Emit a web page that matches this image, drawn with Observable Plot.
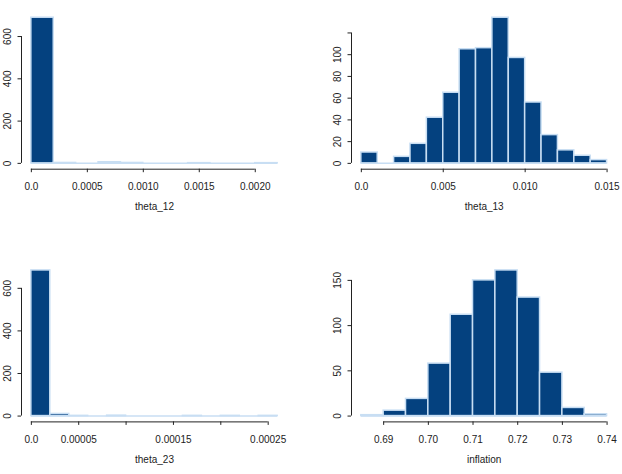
<!DOCTYPE html>
<html><head><meta charset="utf-8">
<script src="https://cdn.jsdelivr.net/npm/d3@7"></script>
<script src="https://cdn.jsdelivr.net/npm/@observablehq/plot@0.6"></script>
<style>
html,body{margin:0;padding:0;background:#fff;}
#wrap{position:relative;width:622px;height:474px;overflow:hidden;}
#wrap svg{position:absolute;}
</style></head><body><div id="wrap"></div>
<script>
// ---- theta_12 ----
const theta12Breaks = [0,0.0002,0.0004,0.0006,0.0008,0.0010,0.0012,0.0014,0.0016,0.0018,0.0020,0.0022];
const theta12Counts = [689,2,0,5,2,0,0,1,0,0,1];
const theta12XTicks = [0,0.0005,0.0010,0.0015,0.0020];
const theta12XLabels = ["0.0","0.0005","0.0010","0.0015","0.0020"];
const theta12YTicks = [0,200,400,600];
const theta12YLabels = ["0","200","400","600"];

// ---- theta_13 ----
const theta13Breaks = [0,0.001,0.002,0.003,0.004,0.005,0.006,0.007,0.008,0.009,0.010,0.011,0.012,0.013,0.014,0.015];
const theta13Counts = [10,0,6,18,42,65,105,106,134,97,56,26,12,7,3];
const theta13XTicks = [0,0.005,0.010,0.015];
const theta13XLabels = ["0.0","0.005","0.010","0.015"];
const theta13YTicks = [0,20,40,60,80,100,120];
const theta13YLabels = ["0","20","40","60","80","100",""];

// ---- theta_23 ----
const theta23Breaks = [0,0.00002,0.00004,0.00006,0.00008,0.00010,0.00012,0.00014,0.00016,0.00018,0.00020,0.00022,0.00024,0.00026];
const theta23Counts = [684,10,1,0,2,0,0,0,1,0,1,0,1];
const theta23XTicks = [0,0.00005,0.00010,0.00015,0.00020,0.00025];
const theta23XLabels = ["0.0","0.00005","","0.00015","","0.00025"];
const theta23YTicks = [0,200,400,600];
const theta23YLabels = ["0","200","400","600"];

// ---- inflation ----
const inflationBreaks = [0.685,0.690,0.695,0.700,0.705,0.710,0.715,0.720,0.725,0.730,0.735,0.740];
const inflationCounts = [1,6,19,58,112,150,161,131,48,9,2];
const inflationXTicks = [0.69,0.70,0.71,0.72,0.73,0.74];
const inflationXLabels = ["0.69","0.70","0.71","0.72","0.73","0.74"];
const inflationYTicks = [0,50,100,150];
const inflationYLabels = ["0","50","100","150"];

const FILL = "#04417f";
const EDGE = "#c8def3";
const INK = "#222";

function panel(d, pos) {
  const bins = d.counts.map((c, i) => ({x1: d.breaks[i], x2: d.breaks[i + 1], n: c}));
  const b0 = d.breaks[0], b1 = d.breaks[d.breaks.length - 1];
  const ymax = d3.max(d.counts);
  const xdom = [b0 - 0.04 * (b1 - b0), b1 + 0.04 * (b1 - b0)];
  const ydom = [-0.04 * ymax, 1.04 * ymax];
  const xt = d.xTicks, yt = d.yTicks;
  const svg = Plot.plot({
    width: 311, height: 237,
    marginLeft: pos.mL, marginRight: pos.mR, marginTop: pos.mT, marginBottom: pos.mB,
    x: {domain: xdom},
    y: {domain: ydom},
    style: {fontFamily: "'Liberation Sans', Arial, sans-serif", fontSize: "10px", color: INK, background: "transparent", overflow: "visible"},
    marks: [
      Plot.ruleY([0], {x1: b0, x2: b1, stroke: EDGE, strokeWidth: 1.5}),
      Plot.rect(bins, {x1: "x1", x2: "x2", y1: 0, y2: "n", fill: FILL, stroke: EDGE, strokeWidth: 1.5}),
      Plot.axisX(xt, {tickSize: 3.5, tickPadding: 10, tickFormat: (v, i) => d.xLabels[i], label: null}),
      Plot.ruleY([ydom[0]], {x1: xt[0], x2: xt[xt.length - 1], stroke: INK}),
      Plot.axisY(yt, {tickSize: 3.5, tickFormat: () => "", label: null}),
      Plot.ruleX([xdom[0]], {y1: yt[0], y2: yt[yt.length - 1], stroke: INK}),
      Plot.text(yt, {y: v => v, frameAnchor: "left", dx: -14, rotate: -90, text: (v, i) => d.yLabels[i], textAnchor: "middle", lineAnchor: "middle"}),
      Plot.text([d.name], {frameAnchor: "bottom", dy: 38, text: v => v, lineAnchor: "middle"})
    ]
  });
  svg.style.left = pos.left + "px";
  svg.style.top = pos.top + "px";
  document.getElementById("wrap").appendChild(svg);
}

panel({breaks: theta12Breaks, counts: theta12Counts, xTicks: theta12XTicks, xLabels: theta12XLabels, yTicks: theta12YTicks, yLabels: theta12YLabels, name: "theta_12"},
      {left: 0, top: 0, mL: 21, mR: 24, mT: 11.4, mB: 68.3});
panel({breaks: theta13Breaks, counts: theta13Counts, xTicks: theta13XTicks, xLabels: theta13XLabels, yTicks: theta13YTicks, yLabels: theta13YLabels, name: "theta_13"},
      {left: 311, top: 0, mL: 40, mR: 5.6, mT: 11.4, mB: 68.3});
panel({breaks: theta23Breaks, counts: theta23Counts, xTicks: theta23XTicks, xLabels: theta23XLabels, yTicks: theta23YTicks, yLabels: theta23YLabels, name: "theta_23"},
      {left: 0, top: 237, mL: 21, mR: 24, mT: 27.1, mB: 52.6});
panel({breaks: inflationBreaks, counts: inflationCounts, xTicks: inflationXTicks, xLabels: inflationXLabels, yTicks: inflationYTicks, yLabels: inflationYLabels, name: "inflation"},
      {left: 311, top: 237, mL: 40, mR: 5.6, mT: 27.1, mB: 52.6});
</script>
</body></html>
